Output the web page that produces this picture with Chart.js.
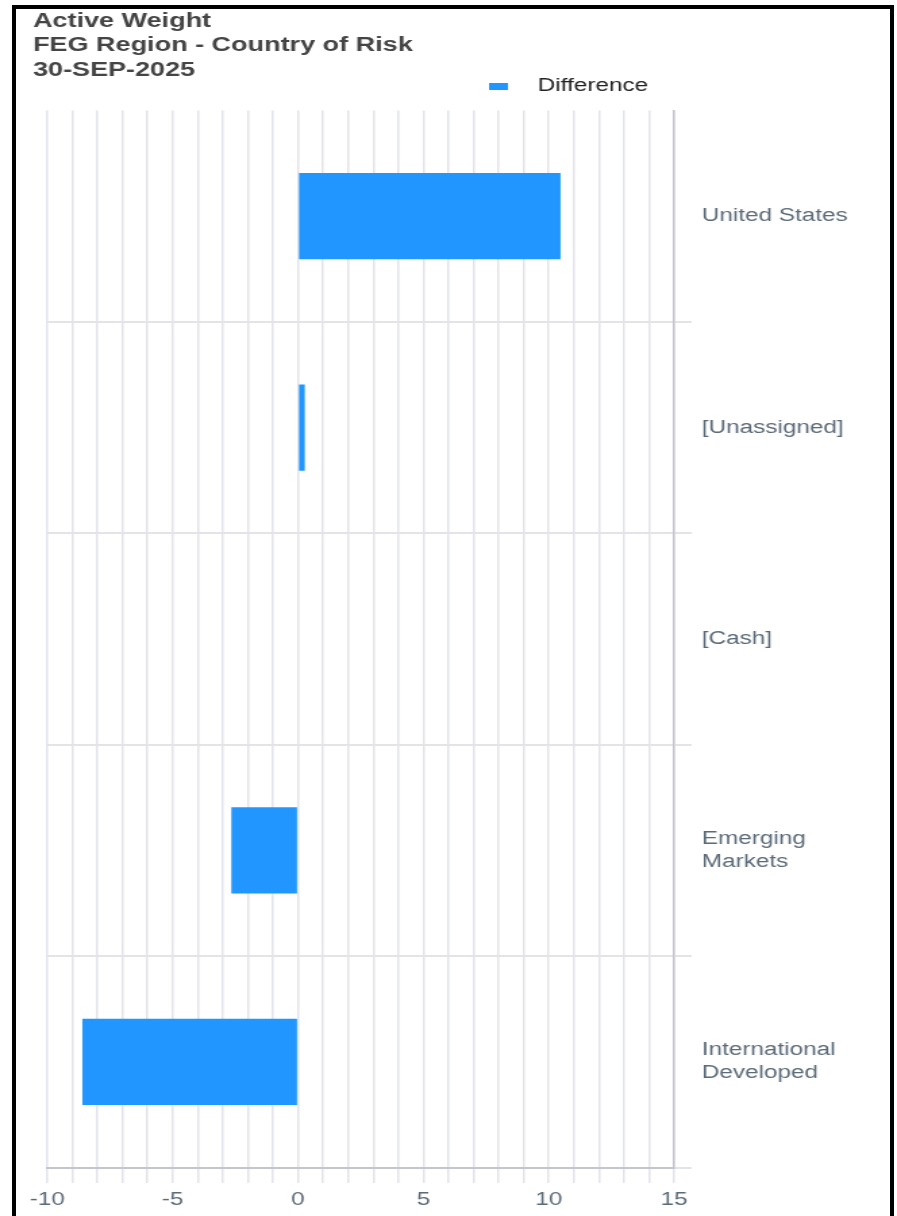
<!DOCTYPE html>
<html>
<head>
<meta charset="utf-8">
<title>Active Weight</title>
<script src="https://cdn.jsdelivr.net/npm/chart.js@4"></script>
<style>
  body { margin: 0; background: #fff; overflow: hidden; }
  #wrap { position: relative; width: 897px; height: 1216px; }
  #frame {
    position: absolute; left: 12px; top: 5px; width: 882px; height: 1260px;
    box-sizing: border-box; border: 4px solid #000; pointer-events: none;
  }
</style>
</head>
<body>
<div id="wrap">
  <!-- drawn narrow and stretched wide, like the reference -->
  <canvas id="chart" width="664" height="1216" style="width:897px;height:1216px;position:absolute;left:0;top:0"></canvas>
  <div id="frame"></div>
</div>
<script>
// data
const categories = ['United States', '[Unassigned]', '[Cash]', ['Emerging', 'Markets'], ['International', 'Developed']];
const difference = [10.47, 0.27, 0, -2.66, -8.6];
const titleLines = ['Active Weight', 'FEG Region - Country of Risk', '30-SEP-2025'];
const labelledTicks = [-10, -5, 0, 5, 10, 15];

const FONT = '"Liberation Sans", Arial, sans-serif';
const BLUE = '#2196ff';
const GRID = '#e3e4ea';
const AXIS = '#c4c6cf';
const TICK_TEXT = '#5c6b79';

// legend sits off-centre in the reference, so draw it by hand
const legendPlugin = {
  id: 'offsetLegend',
  afterDraw(chart) {
    const ctx = chart.ctx;
    const ds = chart.data.datasets[0];
    ctx.save();
    ctx.fillStyle = ds.backgroundColor;
    ctx.fillRect(362, 83, 14, 7);
    ctx.fillStyle = '#222';
    ctx.font = '18px ' + FONT;
    ctx.textBaseline = 'middle';
    ctx.fillText(ds.label, 398, 86);
    ctx.restore();
  }
};

new Chart(document.getElementById('chart'), {
  type: 'bar',
  data: {
    labels: categories,
    datasets: [{
      label: 'Difference',
      data: difference,
      backgroundColor: BLUE,
      borderWidth: 0,
      barPercentage: 0.51,
      categoryPercentage: 0.8
    }]
  },
  options: {
    indexAxis: 'y',
    responsive: false,
    animation: false,
    events: [],
    layout: { padding: { left: 24.4, top: 0, right: 0, bottom: 0 } },
    plugins: {
      legend: { display: false },
      tooltip: { enabled: false },
      title: {
        display: true,
        text: titleLines,
        align: 'start',
        color: '#444',
        font: { family: FONT, size: 20, weight: 'bold', lineHeight: 1.225 },
        padding: { top: 9, bottom: 28 }
      }
    },
    scales: {
      x: {
        min: -10,
        max: 15,
        afterFit(scale) { scale.paddingLeft = 35; scale.height = 48.5; },
        ticks: {
          stepSize: 1,
          autoSkip: false,
          maxRotation: 0,
          minRotation: 0,
          padding: 6,
          color: TICK_TEXT,
          font: { family: FONT, size: 18 },
          callback: v => labelledTicks.includes(v) ? v : ''
        },
        grid: { color: GRID, lineWidth: 1.5, tickLength: 15.5 },
        border: { color: AXIS, width: 2 }
      },
      y: {
        position: 'right',
        afterFit(scale) { scale.width = 165; },
        ticks: {
          crossAlign: 'near',
          padding: 7.5,
          color: TICK_TEXT,
          font: { family: FONT, size: 18, lineHeight: 1.28 }
        },
        grid: {
          color: ctx => ctx.index === 0 ? 'rgba(0,0,0,0)' : GRID,
          lineWidth: 2,
          tickLength: 13
        },
        border: { color: AXIS, width: 1.5 }
      }
    }
  },
  plugins: [legendPlugin]
});
</script>
</body>
</html>
